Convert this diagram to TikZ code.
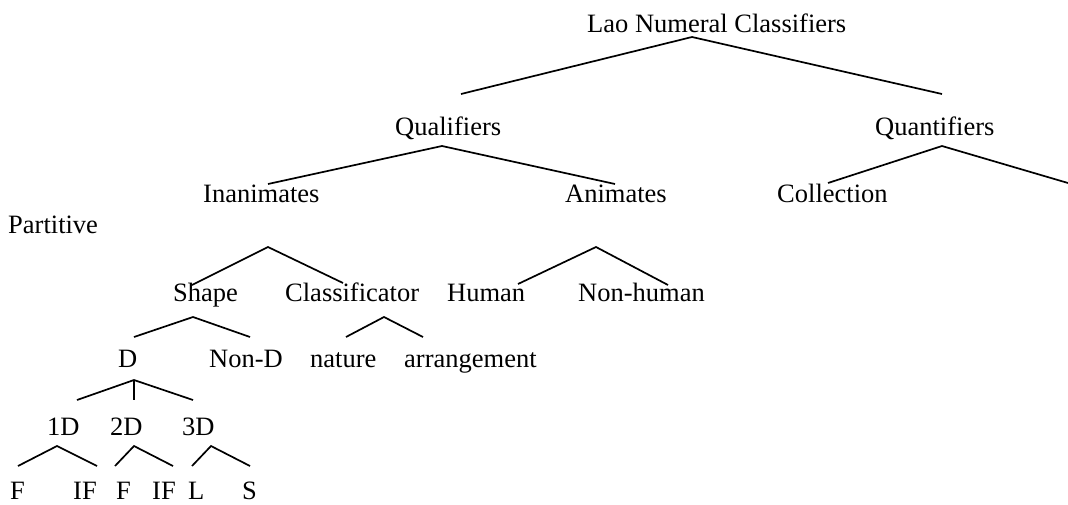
\documentclass[tikz,border=0pt]{standalone}
\usepackage{fontspec}
\setmainfont{Liberation Serif}
\begin{document}
\begin{tikzpicture}[x=1pt,y=-1pt,
  lbl/.style={anchor=base west,inner sep=0pt,font=\fontsize{26.5}{30}\selectfont},
  br/.style={line width=1.7pt}]
\useasboundingbox (0,0) rectangle (1068,504);
% texts
\node[lbl] (root) at (587,32) {Lao Numeral Classifiers};
\node[lbl] (qual) at (395,135) {Qualifiers};
\node[lbl] (quan) at (875,135) {Quantifiers};
\node[lbl] (inan) at (203,202) {Inanimates};
\node[lbl] (anim) at (565,202) {Animates};
\node[lbl] (coll) at (777,202) {Collection};
\node[lbl] (part) at (8,233) {Partitive};
\node[lbl] (shape) at (173,301) {Shape};
\node[lbl] (class) at (285,301) {Classificator};
\node[lbl] (human) at (447,301) {Human};
\node[lbl] (nonhuman) at (578,301) {Non-human};
\node[lbl] (d) at (118,367) {D};
\node[lbl] (nond) at (209,367) {Non-D};
\node[lbl] (nature) at (310,367) {nature};
\node[lbl] (arr) at (404,367) {arrangement};
\node[lbl] (d1) at (47,435) {1D};
\node[lbl] (d2) at (110,435) {2D};
\node[lbl] (d3) at (182,435) {3D};
\node[lbl] (f1) at (10,499) {F};
\node[lbl] (if1) at (73,499) {IF};
\node[lbl] (f2) at (116,499) {F};
\node[lbl] (if2) at (152,499) {IF};
\node[lbl] (l) at (188,499) {L};
\node[lbl] (s) at (242,499) {S};
% branch points
\coordinate (a0) at (692,37);  \coordinate (a0l) at (461,94);  \coordinate (a0r) at (942,94);
\coordinate (a1) at (442,146); \coordinate (a1l) at (268,184); \coordinate (a1r) at (615,184);
\coordinate (a2) at (942,146); \coordinate (a2l) at (828,183); \coordinate (a2r) at (1068,183);
\coordinate (a3) at (268,247); \coordinate (a3l) at (192,285); \coordinate (a3r) at (343,283);
\coordinate (a4) at (596,247); \coordinate (a4l) at (518,284); \coordinate (a4r) at (668,285);
\coordinate (a5) at (193,317); \coordinate (a5l) at (134,337); \coordinate (a5r) at (250,337);
\coordinate (a6) at (384,317); \coordinate (a6l) at (346,337); \coordinate (a6r) at (423,337);
\coordinate (a7) at (134,380); \coordinate (a7l) at (77,400);  \coordinate (a7m) at (134,400); \coordinate (a7r) at (193,400);
\coordinate (a8) at (57,446);  \coordinate (a8l) at (18,466);  \coordinate (a8r) at (97,466);
\coordinate (a9) at (134,446); \coordinate (a9l) at (115,466); \coordinate (a9r) at (173,466);
\coordinate (a10) at (211,446);\coordinate (a10l) at (192,466);\coordinate (a10r) at (250,466);
\draw[br] (a0l) -- (a0) -- (a0r);
\draw[br] (a1l) -- (a1) -- (a1r);
\draw[br] (a2l) -- (a2) -- (a2r);
\draw[br] (a3l) -- (a3) -- (a3r);
\draw[br] (a4l) -- (a4) -- (a4r);
\draw[br] (a5l) -- (a5) -- (a5r);
\draw[br] (a6l) -- (a6) -- (a6r);
\draw[br] (a7l) -- (a7) -- (a7r);
\draw[br] (a7) -- (a7m);
\draw[br] (a8l) -- (a8) -- (a8r);
\draw[br] (a9l) -- (a9) -- (a9r);
\draw[br] (a10l) -- (a10) -- (a10r);
\end{tikzpicture}
\end{document}
